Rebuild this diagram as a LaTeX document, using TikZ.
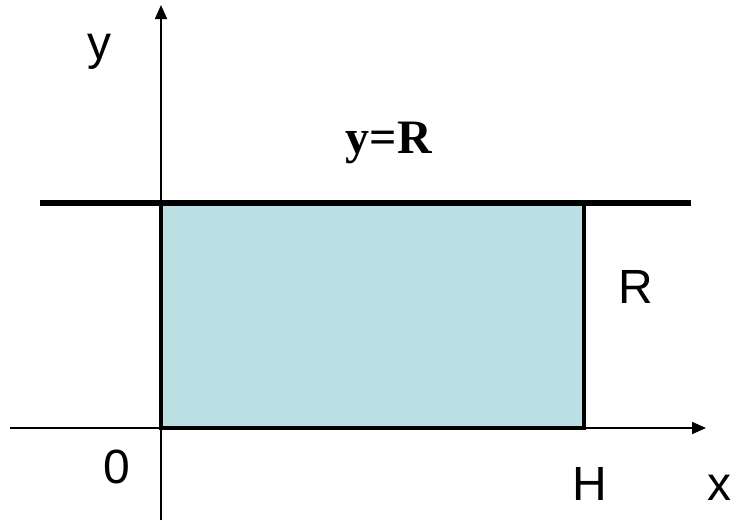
\documentclass[tikz,border=0pt]{standalone}
\usepackage{fontspec}
\setmainfont{Liberation Sans}
\newfontfamily\serifbf{Liberation Serif}
\usetikzlibrary{arrows.meta,positioning,calc}
\definecolor{stripfill}{HTML}{BBE0E3}
\tikzset{
  axisline/.style={line width=1.8pt,-{Triangle[length=14pt,width=12pt]}},
  boundline/.style={line width=5.5pt},
  stripedge/.style={line width=3.5pt},
  axislabel/.style={font=\fontsize{48}{56}\selectfont,inner sep=0pt,anchor=base},
  eqlabel/.style={font=\serifbf\bfseries\fontsize{48}{56}\selectfont,inner sep=0pt,anchor=base}
}

\begin{document}
\begin{tikzpicture}[x=1pt,y=-1pt]
\useasboundingbox (0,0) rectangle (736,520);
% corners of the strip
\coordinate (origin) at (161,428);
\coordinate (topleft) at (161,203);
\coordinate (topright) at (584,203);
\coordinate (botright) at (584,428);
% axis ends
\coordinate (xstart) at (10,428);
\coordinate (xend) at (706,428);
\coordinate (ystart) at (161,520);
\coordinate (yend) at (161,5);
\coordinate (lineL) at (40,203);
\coordinate (lineR) at (691,203);

\fill[stripfill] (origin) rectangle (topright);
\draw[axisline] (xstart) -- (xend);
\draw[axisline] (ystart) -- (yend);
\draw[stripedge] (topleft) -- (origin) -- (botright) -- (topright);
\draw[boundline] (lineL) -- (lineR);

\node[axislabel] (ylab) at (99,59) {y};
\node[axislabel] (xlab) at (719,500) {x};
\node[axislabel] (zerolab) at (116.5,483) {0};
\node[axislabel] (hlab) at (590,500) {H};
\node[axislabel] (rlab) at (636,303) {R};
\node[eqlabel] (eqlab) at (389,153) {y=R};
\end{tikzpicture}
\end{document}
